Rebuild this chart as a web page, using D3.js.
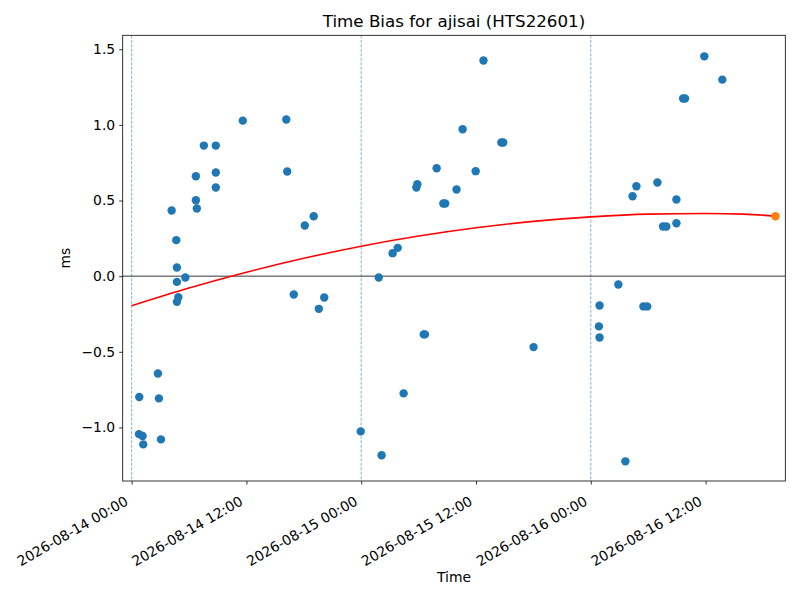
<!DOCTYPE html>
<html lang="en">
<head>
    <meta charset="UTF-8">
    <title>Time Bias</title>
    <script src="https://cdn.jsdelivr.net/npm/d3@7"></script>
    <style>
        body { margin: 0; background: #fff; }
        svg { font-family: "DejaVu Sans", sans-serif; }
    </style>
</head>
<body>
<div id="graphic"></div>
<script>
    // measured time bias samples (UTC)
    var sampleTimes = [
        '2026-08-14T04:11', '2026-08-14T04:40', '2026-08-14T06:43', '2026-08-14T06:43', '2026-08-14T06:49',
        '2026-08-14T07:33', '2026-08-14T08:48', '2026-08-14T08:48', '2026-08-14T08:48', '2026-08-14T11:37',
        '2026-08-14T16:10', '2026-08-14T16:16', '2026-08-14T18:06', '2026-08-14T19:02', '2026-08-14T04:44',
        '2026-08-14T04:44', '2026-08-14T05:37', '2026-08-14T04:53', '2026-08-14T04:44', '2026-08-14T16:57',
        '2026-08-14T19:34', '2026-08-14T20:08', '2026-08-14T02:45', '2026-08-14T00:48', '2026-08-14T02:51',
        '2026-08-14T00:46', '2026-08-14T01:09', '2026-08-14T01:13', '2026-08-14T03:04', '2026-08-15T12:47',
        '2026-08-15T10:36', '2026-08-15T14:39', '2026-08-15T14:51', '2026-08-15T07:53', '2026-08-15T11:58',
        '2026-08-15T05:52', '2026-08-15T05:46', '2026-08-15T09:58', '2026-08-15T08:35', '2026-08-15T08:47',
        '2026-08-15T03:49', '2026-08-15T03:17', '2026-08-15T01:50', '2026-08-15T06:32', '2026-08-15T06:40',
        '2026-08-15T18:01', '2026-08-15T04:26', '2026-08-14T23:57', '2026-08-15T02:08', '2026-08-16T11:52',
        '2026-08-16T13:45', '2026-08-16T09:39', '2026-08-16T09:51', '2026-08-16T04:46', '2026-08-16T06:58',
        '2026-08-16T04:22', '2026-08-16T08:57', '2026-08-16T07:33', '2026-08-16T07:54', '2026-08-16T08:57',
        '2026-08-16T02:53', '2026-08-16T00:55', '2026-08-16T05:30', '2026-08-16T05:54', '2026-08-16T00:51',
        '2026-08-16T00:55', '2026-08-16T03:37'
    ];
    var sampleValues = [
        0.434, 0.238, 0.660, 0.502, 0.447,
        0.863, 0.863, 0.685, 0.586, 1.028,
        1.035, 0.692, 0.335, 0.396, 0.057,
        -0.038, -0.009, -0.139, -0.170, -0.121,
        -0.216, -0.141, -0.643, -0.799, -0.808,
        -1.044, -1.057, -1.112, -1.079, 1.425,
        0.971, 0.883, 0.883, 0.713, 0.694,
        0.608, 0.586, 0.573, 0.480, 0.480,
        0.187, 0.152, -0.009, -0.385, -0.385,
        -0.469, -0.775, -1.026, -1.184, 1.453,
        1.299, 1.174, 1.174, 0.594, 0.619,
        0.528, 0.507, 0.328, 0.328, 0.350,
        -0.055, -0.194, -0.200, -0.200, -0.332,
        -0.405, -1.224
    ];

    // fitted trend (red)
    var fitTimes = [
        '2026-08-14T00:00', '2026-08-14T06:00', '2026-08-14T12:00', '2026-08-14T18:00',
        '2026-08-15T00:00', '2026-08-15T06:00', '2026-08-15T12:00', '2026-08-15T18:00',
        '2026-08-16T00:00', '2026-08-16T06:00', '2026-08-16T12:00', '2026-08-16T16:00',
        '2026-08-16T19:18'
    ];
    var fitValues = [-0.195, -0.078, 0.026, 0.118, 0.198, 0.265, 0.320, 0.362, 0.392, 0.410, 0.414, 0.410, 0.396];

    // predicted point (orange)
    var predTime = '2026-08-16T19:18';
    var predValue = 0.396;

    // day boundaries (dashed)
    var dayLines = ['2026-08-14T00:00', '2026-08-15T00:00', '2026-08-16T00:00'];

    var xTicks = ['2026-08-14T00:00', '2026-08-14T12:00', '2026-08-15T00:00',
                  '2026-08-15T12:00', '2026-08-16T00:00', '2026-08-16T12:00'];
    var yTicks = [-1.0, -0.5, 0.0, 0.5, 1.0, 1.5];

    var xDomain = ['2026-08-13T23:04', '2026-08-16T20:20'];
    var yDomain = [-1.354, 1.592];

    var width = 800;
    var height = 600;
    var margin = {top: 35.3, right: 14.7, bottom: 119, left: 122.7};

    var parseTime = d3.utcParse('%Y-%m-%dT%H:%M');
    var fmt = d3.utcFormat('%Y-%m-%d %H:%M');

    var blue = '#1f77b4';
    var orange = '#ff7f0e';

    var svg = d3.select('#graphic')
                .append('svg')
                .attr('width', width)
                .attr('height', height);

    var x = d3.scaleUtc()
        .domain(xDomain.map(parseTime))
        .range([margin.left, width - margin.right]);

    var y = d3.scaleLinear()
        .domain(yDomain)
        .range([height - margin.bottom, margin.top]);

    var plot = svg.append('g');

    // clip to the axes box
    svg.append('defs').append('clipPath').attr('id', 'clip')
        .append('rect')
        .attr('x', margin.left).attr('y', margin.top)
        .attr('width', width - margin.left - margin.right)
        .attr('height', height - margin.top - margin.bottom);
    plot.attr('clip-path', 'url(#clip)');

    // dashed day lines
    plot.selectAll('.day')
        .data(dayLines)
        .join('line')
        .attr('class', 'day')
        .attr('x1', d => x(parseTime(d)))
        .attr('x2', d => x(parseTime(d)))
        .attr('y1', margin.top)
        .attr('y2', height - margin.bottom)
        .attr('stroke', blue)
        .attr('stroke-opacity', 0.7)
        .attr('stroke-width', 0.8)
        .attr('stroke-dasharray', '3,1.5');

    // zero line
    plot.append('line')
        .attr('x1', margin.left)
        .attr('x2', width - margin.right)
        .attr('y1', y(0))
        .attr('y2', y(0))
        .attr('stroke', 'black')
        .attr('stroke-width', 0.8);

    var points = sampleTimes.map((t, i) => ({t: parseTime(t), v: sampleValues[i]}));

    plot.selectAll('.pt')
        .data(points)
        .join('circle')
        .attr('class', 'pt')
        .attr('cx', d => x(d.t))
        .attr('cy', d => y(d.v))
        .attr('r', 4.2)
        .attr('fill', blue);

    var fit = fitTimes.map((t, i) => ({t: parseTime(t), v: fitValues[i]}));
    var line = d3.line()
        .x(d => x(d.t))
        .y(d => y(d.v))
        .curve(d3.curveMonotoneX);

    plot.append('path')
        .datum(fit)
        .attr('d', line)
        .attr('fill', 'none')
        .attr('stroke', 'red')
        .attr('stroke-width', 1.6);

    plot.append('circle')
        .attr('cx', x(parseTime(predTime)))
        .attr('cy', y(predValue))
        .attr('r', 4.2)
        .attr('fill', orange);

    // axes
    var xAxis = svg.append('g')
        .attr('transform', 'translate(0,' + (height - margin.bottom) + ')')
        .call(d3.axisBottom(x)
            .tickValues(xTicks.map(parseTime))
            .tickFormat(fmt)
            .tickSize(3.5)
            .tickSizeOuter(0));
    xAxis.select('.domain').remove();
    xAxis.selectAll('.tick line').attr('stroke', 'black').attr('stroke-width', 0.8);
    xAxis.selectAll('.tick text')
        .attr('font-size', 13.9)
        .attr('font-family', '"DejaVu Sans", sans-serif')
        .attr('fill', 'black')
        .attr('text-anchor', 'end')
        .attr('y', 0)
        .attr('dy', 0)
        .attr('transform', 'translate(-3,23) rotate(-30)');

    var yAxis = svg.append('g')
        .attr('transform', 'translate(' + margin.left + ',0)')
        .call(d3.axisLeft(y)
            .tickValues(yTicks)
            .tickFormat(d3.format('.1f'))
            .tickSize(3.5)
            .tickSizeOuter(0));
    yAxis.select('.domain').remove();
    yAxis.selectAll('.tick line').attr('stroke', 'black').attr('stroke-width', 0.8);
    yAxis.selectAll('.tick text')
        .attr('font-size', 13.9)
        .attr('font-family', '"DejaVu Sans", sans-serif')
        .attr('fill', 'black')
        .attr('x', -7.5);

    // axes frame
    svg.append('rect')
        .attr('x', margin.left)
        .attr('y', margin.top)
        .attr('width', width - margin.left - margin.right)
        .attr('height', height - margin.top - margin.bottom)
        .attr('fill', 'none')
        .attr('stroke', 'black')
        .attr('stroke-width', 0.8);

    var cx = margin.left + (width - margin.left - margin.right) / 2;

    svg.append('text')
        .attr('x', cx)
        .attr('y', 27)
        .attr('text-anchor', 'middle')
        .attr('font-size', 16.7)
        .text('Time Bias for ajisai (HTS22601)');

    svg.append('text')
        .attr('x', cx)
        .attr('y', 582)
        .attr('text-anchor', 'middle')
        .attr('font-size', 13.9)
        .text('Time');

    svg.append('text')
        .attr('transform', 'translate(70,' + ((margin.top + height - margin.bottom) / 2) + ') rotate(-90)')
        .attr('text-anchor', 'middle')
        .attr('font-size', 13.9)
        .text('ms');
</script>
</body>
</html>
